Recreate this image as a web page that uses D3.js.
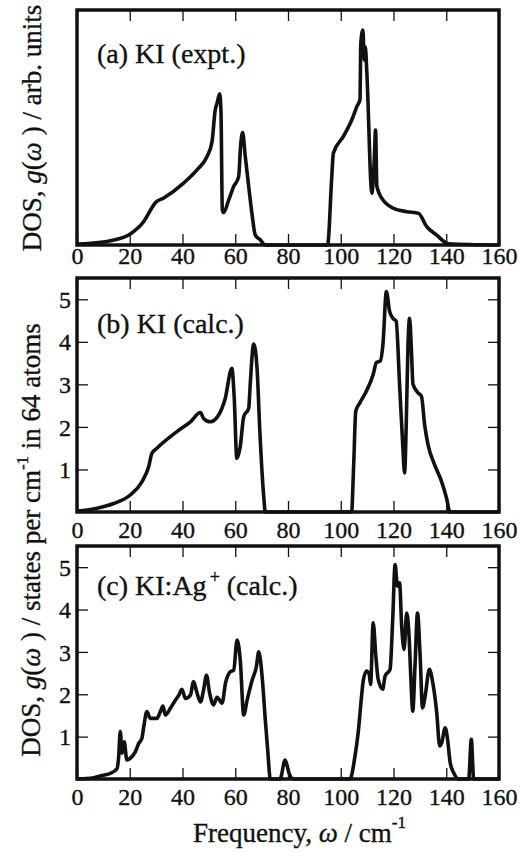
<!DOCTYPE html>
<html>
<head>
<meta charset="utf-8">
<script src="https://cdn.jsdelivr.net/npm/d3@7/dist/d3.min.js"></script>
<style>
  html, body { margin: 0; padding: 0; background: #fff; }
</style>
</head>
<body>
<script>
var width = 520;
var height = 852;
var ink = "#111";
var serif = "'Liberation Serif', 'Times New Roman', serif";
var borderWidth = 3.5;
var lineWidth = 3.6;
var tickLength = 11;

// tick values
var xTicks = [0, 20, 40, 60, 80, 100, 120, 140, 160];
var yTicks = [1, 2, 3, 4, 5];

// (a) KI experiment, arb. units
var freqA = [0, 5, 12.6, 20.2, 25.3, 28.4, 29.7, 32.9, 40.4, 45.5, 49.3, 51.2, 52.4, 53.1, 54.1, 54.6, 55.1, 55.6, 57.5, 59.4,
    61.3, 62.0, 62.8, 63.8, 65.1, 66.3, 67.6, 69.5, 71.4, 80, 95.0, 96.6, 97.2, 101, 104.2, 106.1, 107.3, 107.6, 108.4, 108.9,
    109.3, 109.9, 111.8, 112.7, 113.2, 113.7, 115.6, 120, 125, 129.5, 132.6, 136.4, 140.8, 160];
var dosA = [0.02, 0.04, 0.1, 0.26, 0.55, 0.87, 0.99, 1.1, 1.45, 1.76, 2.07, 2.42, 3.16, 3.32, 3.54, 3.09, 0.82, 0.76, 1.05, 1.37,
    1.6, 2.3, 2.63, 2.07, 1.37, 0.75, 0.23, 0.12, 0, 0, 0, 1.6, 2.15, 2.54, 2.93, 3.24, 3.41, 4.72, 5.03, 4.33,
    4.64, 4.02, 1.21, 1.99, 2.69, 1.37, 1.09, 0.86, 0.78, 0.74, 0.43, 0.23, 0.03, 0];

// (b) KI calculation
var freqB = [0, 7.6, 13.9, 20.2, 24.6, 27.2, 28.4, 30.3, 37.9, 43, 46.8, 48, 50.5, 53.7, 56.2, 58.7, 59.6, 60.6, 61.9, 63.2,
    65.1, 65.7, 67, 68.3, 69.3, 70.8, 71.4, 104.1, 104.9, 105.7, 107.2, 109.7, 112.3, 113.5, 115, 116, 117.3, 118.5, 119.8, 121,
    122.3, 123.5, 124.2, 124.8, 125.5, 126.1, 126.7, 127.4, 129.3, 130.6, 131.8, 133.1, 135.6, 138.2, 140.1, 141.4, 160];
var dosB = [0.02, 0.09, 0.2, 0.4, 0.71, 1.07, 1.38, 1.5, 1.89, 2.12, 2.34, 2.2, 2.12, 2.28, 2.67, 3.38, 2.7, 1.26, 1.54, 2.24,
    2.44, 3.03, 3.95, 3.34, 1.93, 0.36, 0, 0, 1.11, 2.37, 2.56, 2.84, 3.23, 3.51, 3.55, 3.94, 5.18, 4.72, 4.55, 4.49,
    3.0, 1.58, 0.92, 1.98, 3.94, 4.55, 3.94, 3.0, 2.8, 2.72, 2.05, 1.58, 1.11, 0.72, 0.33, 0, 0];

// (c) KI:Ag+ calculation
var freqC = [0, 6.3, 10.1, 12.6, 15.2, 15.8, 16.4, 17.1, 17.9, 18.9, 20.2, 22.1, 23.4, 24.6, 25.3, 26.5, 27.8, 30.3, 31.6, 32.6,
    33.5, 35.4, 37.3, 38.6, 39.8, 41.1, 43, 44.2, 45.2, 46.8, 48, 49.1, 50.3, 51.8, 53.1, 55, 56.3, 58.1, 59.4, 60.7,
    61.9, 63.2, 64.5, 66.4, 68, 68.9, 70.2, 71.4, 72.3, 73.3, 77, 78.9, 80.5, 82, 103.5, 105.4, 106.6, 107.9, 108.5, 109.8,
    110.8, 111.3, 112.3, 113.3, 114.2, 115.9, 116.8, 118.7, 119.7, 120.6, 121.5, 122.3, 123.1, 124, 125, 125.9, 126.6, 127.3, 128.2, 129.1,
    130.1, 131, 132, 133.6, 134.9, 136.4, 137.5, 138.3, 139.6, 140.5, 141.5, 142.8, 144.7, 148.5, 149.5, 150.4, 160];
var dosC = [0, 0.03, 0.09, 0.13, 0.25, 0.53, 1.12, 0.61, 0.88, 0.45, 0.49, 0.64, 0.84, 0.96, 1.23, 1.59, 1.43, 1.43, 1.59, 1.72,
    1.51, 1.67, 1.86, 1.98, 2.12, 1.9, 1.98, 2.3, 2.1, 1.82, 2.1, 2.45, 2.02, 1.75, 1.93, 1.79, 2.26, 2.53, 2.57, 3.28,
    2.81, 1.51, 1.86, 2.33, 2.65, 3.0, 2.41, 1.39, 0.68, 0, 0, 0.45, 0.12, 0, 0, 0.54, 1.09, 1.96, 2.31, 2.55,
    2.47, 2.23, 3.69, 2.9, 2.35, 2.12, 2.43, 2.59, 3.77, 5.06, 4.55, 4.63, 3.61, 3.06, 3.92, 3.37, 2.35, 1.6, 2.74, 3.92,
    2.9, 1.68, 1.96, 2.59, 2.27, 1.56, 0.78, 0.86, 1.21, 0.94, 0.38, 0.15, 0, 0, 0.94, 0, 0];

var svg = d3.select("body").append("svg")
    .attr("width", width)
    .attr("height", height);

var x = d3.scaleLinear().domain([0, 160]).range([77, 499]);

// slightly heavier text, like the scanned figure
var inkText = function(sel) {
    sel.attr("fill", ink)
        .attr("stroke", ink)
        .attr("stroke-width", 0.35)
        .style("font-family", serif);
};

var drawPanel = function(top, bottom, freq, dos, showY, labelY) {
    var y = d3.scaleLinear().domain([0, 5.5]).range([bottom, top]);
    var g = svg.append("g");

    // curve
    var pts = d3.zip(freq, dos);
    g.append("path")
        .datum(pts)
        .attr("fill", "none")
        .attr("stroke", ink)
        .attr("stroke-width", lineWidth)
        .attr("stroke-linejoin", "round")
        .attr("d", d3.line()
            .curve(d3.curveMonotoneX)
            .x(function(d) { return x(d[0]); })
            .y(function(d) { return y(d[1]); }));

    // bottom axis, ticks inward, top mirror
    var bottomAxis = d3.axisBottom(x).tickValues(xTicks).tickSize(-tickLength).tickSizeOuter(0).tickPadding(labelY);
    var ax = g.append("g").attr("transform", "translate(0," + bottom + ")").call(bottomAxis);
    var topAxis = d3.axisTop(x).tickValues(xTicks).tickSize(-tickLength).tickSizeOuter(0).tickFormat("");
    var at = g.append("g").attr("transform", "translate(0," + top + ")").call(topAxis);

    var axes = [ax, at];
    if (showY) {
        var leftAxis = d3.axisLeft(y).tickValues(yTicks).tickFormat(d3.format("d"))
            .tickSize(-tickLength).tickSizeOuter(0).tickPadding(6);
        var al = g.append("g").attr("transform", "translate(77,0)").call(leftAxis);
        var rightAxis = d3.axisRight(y).tickValues(yTicks).tickSize(-tickLength).tickSizeOuter(0).tickFormat("");
        var ar = g.append("g").attr("transform", "translate(499,0)").call(rightAxis);
        axes.push(al, ar);
        al.selectAll("text").attr("dy", "0.34em");
    }
    axes.forEach(function(a) {
        a.attr("font-family", null).attr("font-size", null);
        a.select(".domain").remove();
        a.selectAll("line").attr("stroke", ink).attr("stroke-width", 1.3);
        a.selectAll("text").call(inkText).style("font-size", "24px");
    });
    ax.selectAll("text").attr("dy", "0.71em");

    // frame
    g.append("rect")
        .attr("x", 77)
        .attr("y", top)
        .attr("width", 422)
        .attr("height", bottom - top)
        .attr("fill", "none")
        .attr("stroke", ink)
        .attr("stroke-width", borderWidth);
    return g;
};

var gA = drawPanel(10, 245, freqA, dosA, false, 2);
var gB = drawPanel(278, 512, freqB, dosB, true, 9);
var gC = drawPanel(546, 779, freqC, dosC, true, 9);

var addText = function(parent) {
    return parent.append("text").call(inkText);
};

var labelSize = "28px";
addText(gA).attr("x", 97).attr("y", 63).style("font-size", labelSize).text("(a) KI (expt.)");
addText(gB).attr("x", 97).attr("y", 333).style("font-size", labelSize).text("(b) KI (calc.)");
var lc = addText(gC).attr("x", 97).attr("y", 595).style("font-size", labelSize);
lc.append("tspan").text("(c) KI:Ag");
lc.append("tspan").style("font-size", "18px").attr("dy", -12).attr("dx", 3).text("+");
lc.append("tspan").attr("dy", 12).text(" (calc.)");

// y labels
var ya = addText(svg)
    .attr("transform", "translate(41,128) rotate(-90)")
    .attr("text-anchor", "middle")
    .style("font-size", "27px");
ya.append("tspan").text("DOS, ");
ya.append("tspan").style("font-style", "italic").text("g");
ya.append("tspan").text("(");
ya.append("tspan").style("font-style", "italic").text("ω");
ya.append("tspan").text(" ) / arb. units");

var yb = addText(svg)
    .attr("transform", "translate(40,540) rotate(-90)")
    .attr("text-anchor", "middle")
    .style("font-size", "27px");
yb.append("tspan").text("DOS, ");
yb.append("tspan").style("font-style", "italic").text("g");
yb.append("tspan").text("(");
yb.append("tspan").style("font-style", "italic").text("ω");
yb.append("tspan").text(" ) / states per cm");
yb.append("tspan").style("font-size", "17px").attr("dy", -12).text("-1");
yb.append("tspan").attr("dy", 12).text(" in 64 atoms");

// x label
var xl = addText(svg)
    .attr("x", 193)
    .attr("y", 842)
    .style("font-size", "27px");
xl.append("tspan").text("Frequency, ");
xl.append("tspan").style("font-style", "italic").text("ω");
xl.append("tspan").text(" / cm");
xl.append("tspan").style("font-size", "17px").attr("dy", -14).text("-1");
</script>
</body>
</html>
